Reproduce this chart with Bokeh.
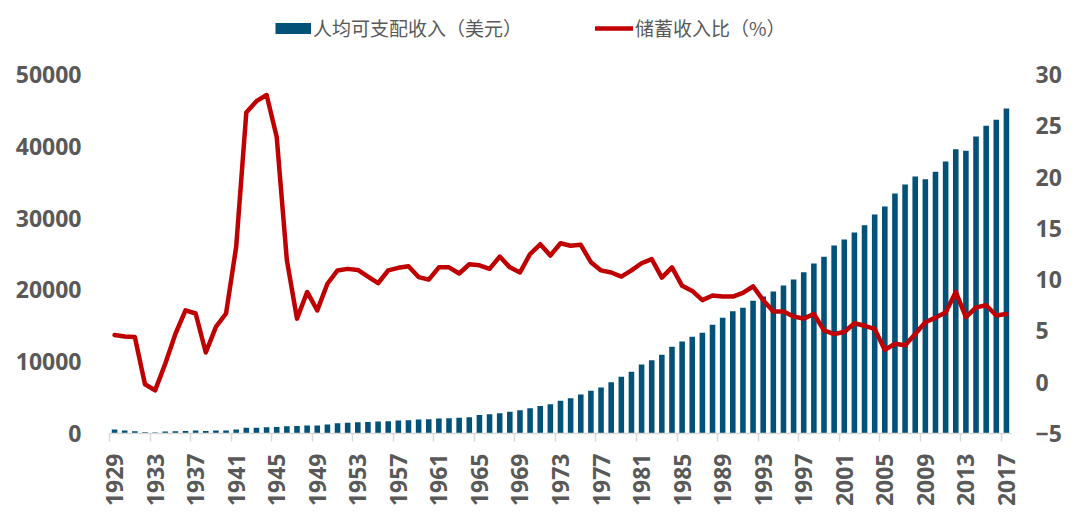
import math
from bokeh.plotting import figure
from bokeh.models import Range1d, LinearAxis, FixedTicker, Legend, LegendItem, ColumnDataSource
from bokeh.core.properties import value
from bokeh.embed import file_html
from bokeh.resources import INLINE

# ---------------- data ----------------
years = list(range(1929, 2018))

income = [
    560, 420, 330, 160, 150, 280, 330, 350, 420, 360,          # 1929-1938
    420, 430, 560, 790, 800, 880, 900, 1020, 1050, 1110,       # 1939-1948
    1100, 1250, 1440, 1480, 1560, 1590, 1670, 1720, 1810, 1840,  # 1949-1958
    1950, 1990, 2080, 2130, 2190, 2280, 2560, 2690, 2830, 3020,  # 1959-1968
    3250, 3530, 3830, 4080, 4550, 4920, 5430, 5940, 6410, 7150,  # 1969-1978
    7890, 8590, 9610, 10210, 10960, 12070, 12810, 13460, 14020, 15130,  # 1979-1988
    16110, 17040, 17500, 18480, 19080, 19780, 20610, 21450, 22470, 23680,  # 1989-1998
    24610, 26180, 27020, 28000, 29010, 30500, 31620, 33430, 34680, 35790,  # 1999-2008
    35420, 36440, 37880, 39600, 39370, 41370, 42850, 43690, 45260,  # 2009-2017
]

saving = [
    4.6, 4.45, 4.4, -0.2, -0.8, 1.8, 4.7, 7.0, 6.7, 2.9,        # 1929-1938
    5.4, 6.7, 13.2, 26.3, 27.4, 28.0, 23.9, 11.9, 6.2, 8.8,     # 1939-1948
    7.0, 9.6, 10.9, 11.05, 10.95, 10.3, 9.65, 10.9, 11.15, 11.3,  # 1949-1958
    10.25, 10.0, 11.2, 11.2, 10.6, 11.5, 11.4, 11.05, 12.25, 11.2,  # 1959-1968
    10.7, 12.5, 13.45, 12.35, 13.55, 13.3, 13.4, 11.7, 10.9, 10.7,  # 1969-1978
    10.3, 10.9, 11.6, 12.0, 10.2, 11.2, 9.4, 8.9, 8.0, 8.45,       # 1979-1988
    8.35, 8.35, 8.7, 9.35, 8.0, 6.9, 6.9, 6.4, 6.2, 6.65,          # 1989-1998
    5.05, 4.7, 4.9, 5.75, 5.5, 5.2, 3.15, 3.75, 3.6, 4.7,          # 1999-2008
    5.85, 6.3, 6.8, 8.8, 6.35, 7.3, 7.5, 6.5, 6.65,                # 2009-2017
]

year_ticks = years[::4]
left_ticks = [0, 10000, 20000, 30000, 40000, 50000]
right_ticks = [-5, 0, 5, 10, 15, 20, 25, 30]
label_income = "人均可支配收入（美元）"
label_saving = "储蓄收入比（%）"

# ---------------- layout (canvas px) ----------------
W, H = 1072, 512
FL, FR, FT, FB = 109, 1011, 0, 433
TOP_TICK_Y = 74                     # canvas y of the highest tick
frame_h = FB - FT
span_px = FB - TOP_TICK_Y
left_end = left_ticks[-1] * frame_h / span_px
right_end = right_ticks[0] + (right_ticks[-1] - right_ticks[0]) * frame_h / span_px

GRAY = "#595959"
AXIS_GRAY = "#D9D9D9"
BLUE = "#015179"
RED = "#C00000"

src = ColumnDataSource(dict(year=years, income=income, saving=saving))

p = figure(width=W, height=H, output_backend="svg", toolbar_location=None,
           x_range=Range1d(years[0] - 0.5, years[-1] + 0.5),
           y_range=Range1d(0, left_end),
           min_border_left=FL, min_border_right=W - FR,
           min_border_top=FT, min_border_bottom=H - FB)
p.title = None
p.extra_y_ranges = {"right": Range1d(right_ticks[0], right_end)}
p.outline_line_color = None
p.background_fill_color = "white"
p.border_fill_color = "white"
p.xgrid.visible = False
p.ygrid.visible = False

bars = p.vbar(x="year", top="income", bottom=0, width=0.55, source=src,
              fill_color=BLUE, line_color=None)
line = p.line(x="year", y="saving", source=src, y_range_name="right",
              line_color=RED, line_width=4.5, line_join="round", line_cap="round")

# legend-only swatches: one NaN point each (draws nothing in the plot);
# the thick blue stroke acts as the bar key
nan = float("nan")
key_src = ColumnDataSource(dict(x=[nan], y=[nan]))
bar_key = p.line(x="x", y="y", source=key_src, line_color=BLUE, line_width=11, line_cap="butt")
line_key = p.line(x="x", y="y", source=key_src, line_color=RED, line_width=4.5, line_cap="round")

# x axis
xa = p.xaxis[0]
xa.ticker = FixedTicker(ticks=year_ticks, minor_ticks=[y - 0.5 for y in year_ticks])
xa.axis_line_color = AXIS_GRAY
xa.axis_line_width = 1.5
xa.major_tick_line_color = None
xa.major_tick_out = 0
xa.major_tick_in = 0
xa.minor_tick_line_color = AXIS_GRAY
xa.minor_tick_line_width = 1.5
xa.minor_tick_out = 8
xa.minor_tick_in = 0
xa.major_label_orientation = math.pi / 2
xa.major_label_standoff = 12
xa.major_label_text_font = "Open Sans"
xa.major_label_text_font_style = "bold"
xa.major_label_text_font_size = "23px"
xa.major_label_text_color = GRAY

# left axis
ya = p.yaxis[0]
ya.ticker = FixedTicker(ticks=left_ticks)
ya.axis_line_color = None
ya.major_tick_line_color = None
ya.minor_tick_line_color = None
ya.major_tick_out = 0
ya.major_tick_in = 0
ya.major_label_standoff = 28
ya.major_label_text_font = "Open Sans"
ya.major_label_text_font_style = "bold"
ya.major_label_text_font_size = "23px"
ya.major_label_text_color = GRAY

# right axis
ra = LinearAxis(y_range_name="right", ticker=FixedTicker(ticks=right_ticks))
ra.axis_line_color = None
ra.major_tick_line_color = None
ra.minor_tick_line_color = None
ra.major_tick_out = 0
ra.major_tick_in = 0
ra.major_label_standoff = 24
ra.major_label_text_font = "Open Sans"
ra.major_label_text_font_style = "bold"
ra.major_label_text_font_size = "23px"
ra.major_label_text_color = GRAY
p.add_layout(ra, "right")

# legends (two, positioned independently, relative to frame bottom-left)
def make_legend(label, renderer, loc, gw):
    return Legend(items=[LegendItem(label=value(label), renderers=[renderer], index=0)],
                  location=loc, orientation="horizontal",
                  glyph_width=gw, glyph_height=20, label_standoff=2,
                  padding=0, margin=0, spacing=0,
                  border_line_color=None, background_fill_alpha=0,
                  label_text_font="Noto Sans CJK SC", label_text_font_size="19px",
                  label_text_color=GRAY, label_height=20)

p.add_layout(make_legend(label_income, bar_key, (275 - FL, FB - 41), 36))
p.add_layout(make_legend(label_saving, line_key, (595 - FL, FB - 41), 38))

open("out.html", "w").write(file_html(p, INLINE))
